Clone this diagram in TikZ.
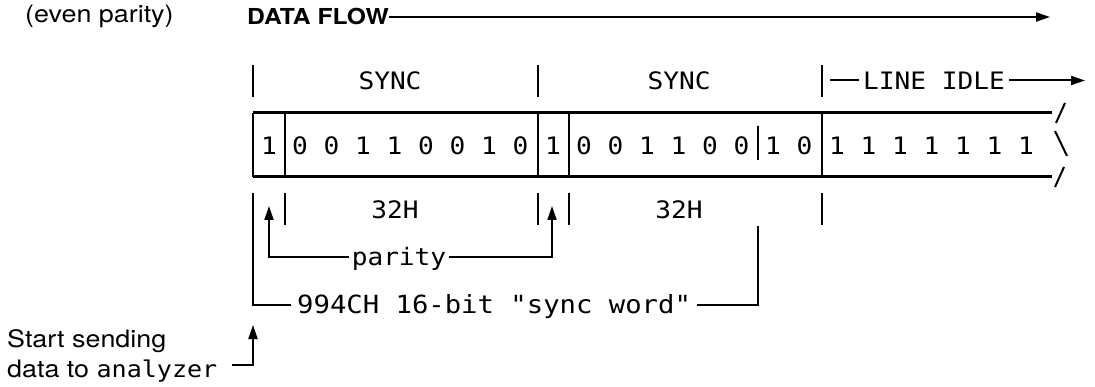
\documentclass[tikz,border=0pt]{standalone}
\usepackage{fontspec}
\newfontfamily\labelfont[FakeStretch=1.12]{TeX Gyre Heros}
\newfontfamily\plotfont[FakeStretch=1.09,Ligatures=TeXOff]{DejaVu Sans Mono}
\usepackage{tikz}
\usetikzlibrary {arrows.meta,
                 positioning}
\tikzset{
        base/.style={inner sep=0pt},
        caption/.style={base, font=\fontsize{24}{28}\selectfont\labelfont},
        heading/.style={base, font=\fontsize{22}{26}\selectfont\labelfont\bfseries},
        plot/.style={base, text height=17.5pt, text depth=0pt,
                     font=\fontsize{24}{28}\selectfont\plotfont},
        frame/.style={line width=2.6pt},
        bar/.style={line width=2pt},
        myarrow/.style={-{Triangle[length=14pt,width=9pt]}, line width=2pt},
 }

\begin{document}
\begin{tikzpicture}[x=1pt, y=-1pt]
    \useasboundingbox (0,0) rectangle (1095,387);

    % headings
    \node[caption, anchor=base west] (even) at (25,22.5) {(even parity)};
    \node[heading, anchor=base west] (flow) at (247,24.5) {DATA FLOW};
    \coordinate (flowend) at (1050,17);
    \draw[myarrow] (flow.east |- flowend) -- (flowend);

    % field marks above the frame
    \draw[bar] (253,65) -- (253,97);
    \draw[bar] (538,65) -- (538,97);
    \draw[bar] (821.7,65) -- (821.7,97);
    \node[plot] (sync1) at (390,81) {SYNC};
    \node[plot] (sync2) at (679,81) {SYNC};
    \node[plot, anchor=west, inner xsep=4pt] (idle) at (859,80.5) {LINE IDLE};
    \coordinate (idlein) at (830,80.5);
    \coordinate (idleout) at (1085,80.5);
    \draw[bar] (idlein) -- (idle.west);
    \draw[myarrow] (idle.east) -- (idleout);

    % frame
    \draw[frame] (253,112.7) -- (1052,112.7);
    \draw[frame] (253,176.7) -- (1052,176.7);
    \draw[bar] (253,112.7) -- (253,176.7);
    \draw[bar] (284.5,112.7) -- (284.5,176.7);
    \draw[bar] (537.5,112.7) -- (537.5,176.7);
    \draw[bar] (569,112.7) -- (569,176.7);
    \draw[bar] (821.7,112.7) -- (821.7,176.7);
    \draw[bar] (757.7,126) -- (757.7,160);
    \draw[bar] (1056,123) -- (1065,103);
    \draw[bar] (1055,131) -- (1067,156);
    \draw[bar] (1055,187) -- (1064,167);

    % bits
    \node[plot] (par1) at (269,145.75) {1};
    \node[plot] (byte1) at (410.25,145.75) {0 0 1 1 0 0 1 0};
    \node[plot] (par2) at (553,145.75) {1};
    \node[plot] (byte2) at (662.75,145.75) {0 0 1 1 0 0};
    \node[plot] (tail) at (788.75,145.75) {1 0};
    \node[plot] (ones) at (931.5,145.75) {1 1 1 1 1 1 1};

    % field marks below the frame
    \draw[bar] (284.5,193) -- (284.5,225);
    \draw[bar] (537.5,193) -- (537.5,225);
    \draw[bar] (569,193) -- (569,225);
    \draw[bar] (821.7,193) -- (821.7,225);
    \node[plot] (hex1) at (395,209.5) {32H};
    \node[plot] (hex2) at (679,209.5) {32H};

    % parity bits
    \node[plot, inner xsep=3pt] (parity) at (399,257) {parity};
    \coordinate (pa) at (269,206);
    \coordinate (pb) at (552,206);
    \draw[myarrow] (parity.west) -| (pa);
    \draw[myarrow] (parity.east) -| (pb);

    % sync word
    \node[plot, anchor=west, inner xsep=6pt, font=\fontsize{25}{28}\selectfont\plotfont] (word) at (291,305) {994CH 16-bit "sync word"};
    \coordinate (wl) at (253,193);
    \coordinate (wr) at (757.7,226);
    \draw[bar] (word.west) -| (wl);
    \draw[bar] (word.east) -| (wr);

    % start of capture
    \node[caption, anchor=base west] (send1) at (7,347) {Start sending};
    \node[caption, anchor=base west] (send2) at (7,377)
        {data to {\fontsize{23}{26}\selectfont\plotfont analyzer}};
    \coordinate (sendfoot) at (232,365);
    \coordinate (sendtip) at (253,325);
    \draw[myarrow] (sendfoot) -| (sendtip);
\end{tikzpicture}
\end{document}
